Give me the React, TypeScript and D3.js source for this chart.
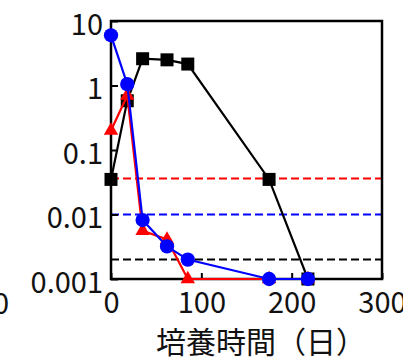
import React, { useEffect, useRef } from 'react';
import * as d3 from 'd3';

// 培養日数と各系列の値
const days = [0, 18, 35, 62, 85, 175, 218];
const blackSeries = [0.035, 0.58, 2.6, 2.5, 2.15, 0.035, 0.001];
const redSeries = [0.2, 0.7, 0.0056, 0.0041, 0.001, 0.001, 0.001];
const blueSeries = [6, 1.05, 0.0082, 0.0032, 0.002, 0.001, 0.001];

// 破線の基準値
const limits = [
  { value: 0.036, color: '#ff0000' },
  { value: 0.01, color: '#0000ff' },
  { value: 0.002, color: '#000000' },
];

const xTicks = [0, 100, 200, 300];
const yTicks = [10, 1, 0.1, 0.01, 0.001];
const yTickLabels = ['10', '1', '0.1', '0.01', '0.001'];
const xTitle = '培養時間（日）';

const W = 403;
const H = 357;
const FONT = '"Noto Sans CJK JP", "Noto Sans", sans-serif';

function App() {
  const svgRef = useRef<SVGSVGElement>(null);

  useEffect(() => {
    const svg = d3.select(svgRef.current);
    svg.selectAll('*').remove();

    const left = 111, right = 382, top = 21, bottom = 279;

    const x = d3.scaleLinear().domain([0, 300]).range([left, right]);
    const y = d3.scaleLog().domain([0.001, 10]).range([bottom, top]);

    // 破線
    svg.append('g')
      .selectAll('line')
      .data(limits)
      .enter()
      .append('line')
      .attr('x1', left)
      .attr('x2', right)
      .attr('y1', d => y(d.value))
      .attr('y2', d => y(d.value))
      .attr('stroke', d => d.color)
      .attr('stroke-width', 2)
      .attr('stroke-dasharray', '8,4');

    // Y 軸
    const yAxis = svg.append('g')
      .attr('transform', `translate(${left},0)`)
      .call(
        d3.axisLeft(y)
          .tickValues(yTicks)
          .tickSize(-7)
          .tickPadding(8)
          .tickFormat((d, i) => yTickLabels[i])
      );
    yAxis.select('.domain').remove();
    yAxis.selectAll('line').attr('stroke', '#000').attr('stroke-width', 2);
    yAxis.selectAll('text')
      .attr('font-family', FONT)
      .attr('font-size', 29)
      .attr('fill', '#111')
      .attr('dy', '0.45em');

    // X 軸
    const xAxis = svg.append('g')
      .attr('transform', `translate(0,${bottom})`)
      .call(
        d3.axisBottom(x)
          .tickValues(xTicks)
          .tickSize(-6)
          .tickPadding(13)
          .tickFormat(d3.format('d'))
      );
    xAxis.select('.domain').remove();
    xAxis.selectAll('line').attr('stroke', '#000').attr('stroke-width', 2);
    xAxis.selectAll('text')
      .attr('font-family', FONT)
      .attr('font-size', 29)
      .attr('fill', '#111');

    // 枠
    svg.append('rect')
      .attr('x', left)
      .attr('y', top)
      .attr('width', right - left)
      .attr('height', bottom - top)
      .attr('fill', 'none')
      .attr('stroke', '#000')
      .attr('stroke-width', 2.5);

    const line = d3.line<number>()
      .x((d, i) => x(days[i]))
      .y(d => y(d));

    const drawSeries = (values: number[], color: string, shape: d3.SymbolType, size: number) => {
      svg.append('path')
        .datum(values)
        .attr('d', line)
        .attr('fill', 'none')
        .attr('stroke', color)
        .attr('stroke-width', 2.2);
      svg.append('g')
        .selectAll('path')
        .data(values)
        .enter()
        .append('path')
        .attr('transform', (d, i) => `translate(${x(days[i])},${y(d)})`)
        .attr('d', d3.symbol().type(shape).size(size)())
        .attr('fill', color);
    };

    drawSeries(blackSeries, '#000000', d3.symbolSquare, 169);
    drawSeries(redSeries, '#ff0000', d3.symbolTriangle, 90);
    drawSeries(blueSeries, '#0000ff', d3.symbolCircle, 160);

    // X 軸タイトル
    svg.append('text')
      .attr('x', 261)
      .attr('y', 353)
      .attr('text-anchor', 'middle')
      .attr('font-family', FONT)
      .attr('font-size', 30)
      .attr('fill', '#111')
      .text(xTitle);

    // 左端に切れて見える隣の図の目盛り
    svg.append('text')
      .attr('x', 9)
      .attr('y', 314)
      .attr('text-anchor', 'end')
      .attr('font-family', FONT)
      .attr('font-size', 29)
      .attr('fill', '#111')
      .text('300');
  }, []);

  return (
    <svg
      ref={svgRef}
      width={W}
      height={H}
      style={{ position: 'absolute', left: 0, top: 0, background: '#fff' }}
    />
  );
}

export default App;
